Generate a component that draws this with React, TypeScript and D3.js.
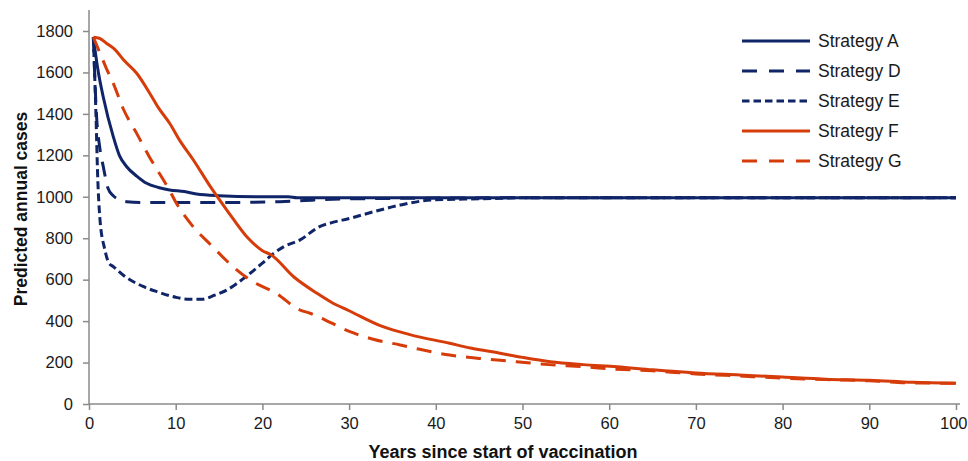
import React, { useEffect, useRef } from 'react'
import * as d3 from 'd3'

// [year, predicted annual cases]
const strategyA: [number, number][] = [
  [0.5, 1770], [1, 1620], [1.65, 1480], [2.8, 1290], [3.5, 1200], [4.35, 1145],
  [5.5, 1100], [6.65, 1065], [8, 1045], [9.3, 1033], [11, 1025], [12.4, 1013],
  [15, 1005], [20, 1000], [23, 1000], [24, 995], [100, 995],
]
const strategyD: [number, number][] = [
  [0.5, 1770], [0.9, 1370], [1.2, 1250], [1.65, 1145], [2.2, 1040], [2.8, 1005],
  [3.5, 985], [4.35, 976], [6, 972], [15, 972], [22, 976], [26, 985], [30, 990],
  [50, 995], [100, 995],
]
const strategyE: [number, number][] = [
  [0.5, 1770], [0.8, 1400], [1.0, 1100], [1.27, 888], [1.8, 750], [2.3, 680],
  [2.8, 663], [4, 620], [6.3, 566], [8, 540], [10, 515], [11.65, 505], [13, 505],
  [14.5, 525], [15.9, 550], [17, 580], [18.6, 631], [20, 680], [21.3, 727],
  [22.5, 760], [24.3, 791], [26.6, 856], [28, 875], [30.1, 896], [33, 930],
  [35.9, 960], [39.7, 985], [45, 990], [50, 995], [100, 995],
]
const strategyF: [number, number][] = [
  [0.5, 1770], [1.2, 1765], [2, 1741], [3, 1710], [4, 1660], [5.5, 1596], [7, 1500],
  [8, 1430], [9.3, 1355], [10.5, 1270], [12, 1180], [14, 1049], [16, 930],
  [18.2, 807], [20, 740], [21, 720], [23.6, 614], [26.3, 534], [28, 490], [30, 450],
  [33.9, 373], [37, 335], [41.6, 293], [44, 270], [47.4, 245], [50, 225],
  [53.2, 204], [57, 190], [60.9, 180], [65, 165], [70, 150], [75, 140], [80, 130],
  [85, 120], [90, 115], [95, 105], [100, 100],
]
const strategyG: [number, number][] = [
  [0.5, 1770], [1, 1720], [2, 1620], [2.8, 1547], [4, 1420], [5.5, 1306], [7, 1190],
  [7.8, 1135], [9.3, 1030], [10, 975], [12, 856], [14, 770], [16.6, 663],
  [18.6, 598], [21.6, 534], [24.3, 454], [25.5, 438], [28, 390], [30.1, 349],
  [33, 310], [35.9, 285], [38, 265], [41.6, 236], [45, 220], [49.3, 204], [53, 190],
  [57, 180], [60, 170], [65, 160], [70, 145], [75, 135], [80, 125], [85, 118],
  [90, 112], [95, 102], [100, 100],
]

const seriesNames = ['Strategy A', 'Strategy D', 'Strategy E', 'Strategy F', 'Strategy G']
const seriesData = [strategyA, strategyD, strategyE, strategyF, strategyG]
const seriesColors = ['#0f2567', '#0f2567', '#0f2567', '#d63c0a', '#d63c0a']
const seriesDash = ['none', '15,10', '8,4', 'none', '15,10']
const legendDash = ['none', '15,12', '7.5,4', 'none', '15,12']

const xTicks = [0, 10, 20, 30, 40, 50, 60, 70, 80, 90, 100]
const yTicks = [0, 200, 400, 600, 800, 1000, 1200, 1400, 1600, 1800]

export default function App() {
  const svgRef = useRef(null)

  useEffect(() => {
    const svg = d3.select(svgRef.current)
    svg.selectAll('*').remove()

    const font = '"Liberation Sans", Arial, sans-serif'
    const x = d3.scaleLinear().domain([0, 100]).range([89, 956])
    const y = d3.scaleLinear().domain([0, 1800]).range([404, 31])

    // axes
    const xAxis = svg
      .append('g')
      .attr('transform', 'translate(0,404)')
      .call(d3.axisBottom(x).tickValues(xTicks).tickFormat(d3.format('d')).tickSize(6).tickPadding(7))
    const yAxis = svg
      .append('g')
      .attr('transform', 'translate(89,0)')
      .call(d3.axisLeft(y).tickValues(yTicks).tickFormat(d3.format('d')).tickSize(6).tickPadding(10))
    for (const g of [xAxis, yAxis]) {
      g.select('.domain').remove()
      g.selectAll('line').attr('stroke', '#8a8a8a').attr('stroke-width', 1.5)
      g.selectAll('text')
        .attr('fill', '#1a1a1a')
        .style('font-size', '16.5px')
        .style('font-family', font)
    }
    // last x label sits right at the window edge, keep it inside
    xAxis.selectAll('text')
      .filter((d) => d === 100)
      .attr('text-anchor', 'end')
      .attr('x', 11)

    // axis lines (y goes a bit above 1800, x a bit past 100)
    svg.append('line')
      .attr('x1', 89).attr('x2', 89).attr('y1', 10).attr('y2', 404)
      .attr('stroke', '#8a8a8a').attr('stroke-width', 1.5)
    svg.append('line')
      .attr('x1', 89).attr('x2', 960).attr('y1', 404).attr('y2', 404)
      .attr('stroke', '#8a8a8a').attr('stroke-width', 1.5)

    // series lines
    const line = d3
      .line<[number, number]>()
      .x((d) => x(d[0]))
      .y((d) => y(d[1]))
      .curve(d3.curveMonotoneX)

    seriesData.forEach((data, i) => {
      svg.append('path')
        .datum(data)
        .attr('d', line)
        .attr('fill', 'none')
        .attr('stroke', seriesColors[i])
        .attr('stroke-width', 3)
        .attr('stroke-dasharray', seriesDash[i])
    })

    // legend
    const legend = svg.append('g').attr('transform', 'translate(742,41)')
    seriesNames.forEach((name, i) => {
      const row = legend.append('g').attr('transform', `translate(0,${i * 30})`)
      row.append('line')
        .attr('x1', 0).attr('x2', 68)
        .attr('stroke', seriesColors[i])
        .attr('stroke-width', 3)
        .attr('stroke-dasharray', legendDash[i])
      row.append('text')
        .attr('x', 76).attr('y', 6)
        .attr('fill', '#1a1a1a')
        .style('font-size', '17.5px')
        .style('font-family', font)
        .text(name)
    })

    // axis titles
    svg.append('text')
      .attr('x', 503).attr('y', 458)
      .attr('text-anchor', 'middle')
      .attr('fill', '#111')
      .style('font-size', '18px').style('font-weight', 'bold').style('font-family', font)
      .text('Years since start of vaccination')
    svg.append('text')
      .attr('transform', 'translate(27,209) rotate(-90)')
      .attr('text-anchor', 'middle')
      .attr('fill', '#111')
      .style('font-size', '17.5px').style('font-weight', 'bold').style('font-family', font)
      .text('Predicted annual cases')
  }, [])

  return (
    <svg
      ref={svgRef}
      width={968}
      height={461}
      style={{ position: 'absolute', left: 0, top: 0, background: '#fff' }}
    ></svg>
  )
}
